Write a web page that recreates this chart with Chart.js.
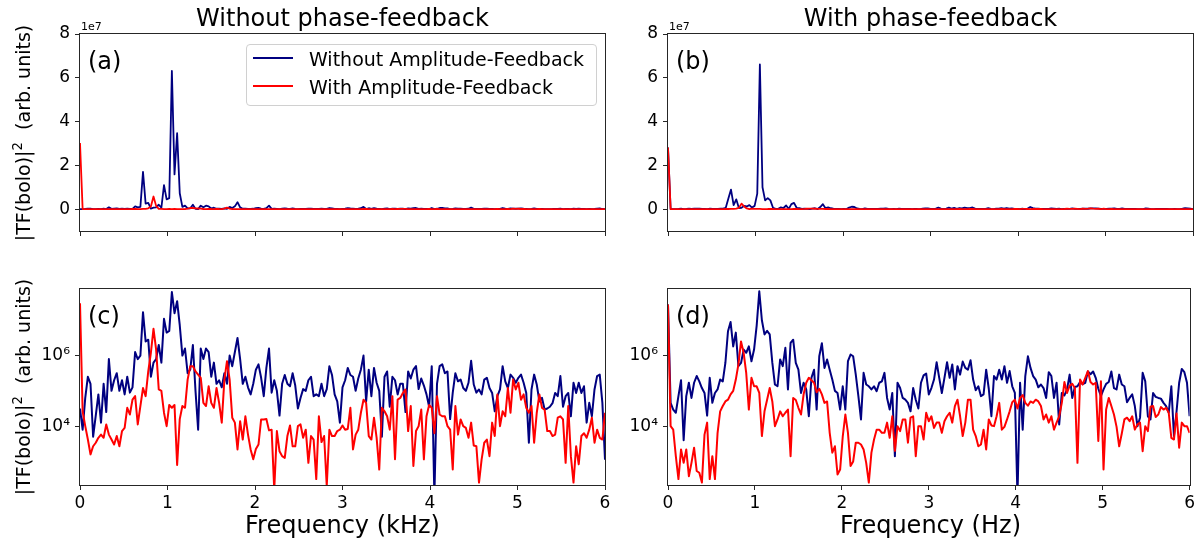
<!DOCTYPE html>
<html>
<head>
<meta charset="utf-8">
<script src="https://cdn.jsdelivr.net/npm/chart.js@4.4.0/dist/chart.umd.min.js"></script>
<style>
  body { margin: 0; background: #fff; }
  #fig { position: relative; width: 1198px; height: 543px; overflow: hidden; font-family: "DejaVu Sans", sans-serif; color: #000; }
  #fig canvas { position: absolute; left: 0; top: 0; width: 1198px; height: 543px; }
  .txt { position: absolute; white-space: nowrap; line-height: 1; }
  .mid { transform: translate(-50%, -50%); }
  .vmid { transform: translateY(-50%); }
  .ylab { transform: translate(-50%, -50%) rotate(-90deg); font-size: 19px; }
  .ylab sup { font-size: 0.7em; vertical-align: 0.55em; line-height: 0; }
  .panel { font-size: 24px; }
  .offset { font-size: 11px; }
  #legend { position: absolute; left: 246px; top: 44px; width: 351px; height: 62px; box-sizing: border-box;
            border: 1px solid #d0d0d0; border-radius: 4px; background: rgba(255, 255, 255, 0.8); }
  .handle { position: absolute; width: 40px; height: 2px; }
  .legtxt { font-size: 19px; }
</style>
</head>
<body>
<div id="fig">
  <canvas id="panel-a" width="1198" height="543"></canvas>
  <canvas id="panel-b" width="1198" height="543"></canvas>
  <canvas id="panel-c" width="1198" height="543"></canvas>
  <canvas id="panel-d" width="1198" height="543"></canvas>

  <div class="txt mid" style="left:342.5px;top:18px;font-size:24px">Without phase-feedback</div>
  <div class="txt mid" style="left:930.5px;top:18px;font-size:24px">With phase-feedback</div>

  <div class="txt offset" style="left:81px;top:21px">1e7</div>
  <div class="txt offset" style="left:669px;top:21px">1e7</div>

  <div class="txt panel vmid" style="left:88px;top:61px">(a)</div>
  <div class="txt panel vmid" style="left:676px;top:61px">(b)</div>
  <div class="txt panel vmid" style="left:88px;top:316px">(c)</div>
  <div class="txt panel vmid" style="left:676px;top:316px">(d)</div>

  <div class="txt ylab" style="left:23px;top:132.5px">|TF(bolo)|<sup>2</sup>&nbsp;&nbsp;(arb. units)</div>
  <div class="txt ylab" style="left:23px;top:387px">|TF(bolo)|<sup>2</sup>&nbsp;&nbsp;(arb. units)</div>

  <div class="txt mid" style="left:342.5px;top:525px;font-size:24px">Frequency (kHz)</div>
  <div class="txt mid" style="left:930.5px;top:525px;font-size:24px">Frequency (Hz)</div>

  <div id="legend"></div>
  <div class="handle" style="left:253px;top:57px;background:#000080"></div>
  <div class="handle" style="left:253px;top:85px;background:#ff0000"></div>
  <div class="txt legtxt vmid" style="left:309px;top:58.5px">Without Amplitude-Feedback</div>
  <div class="txt legtxt vmid" style="left:309px;top:86.5px">With Amplitude-Feedback</div>
</div>

<script>
// spectra as log10(|TF(bolo)|^2), one sample every freqStep kHz from 0 to 6
const freqStep = 0.03;

// without phase-feedback, without amplitude-feedback
const noPhaseNoAmp = [
  4.5, 3.9, 4.8, 5.4, 5.2, 3.7, 4.3, 4.9, 4.1, 5.2,
  4.4, 5.9, 5.0, 5.3, 5.5, 5.0, 5.3, 4.9, 5.4, 4.95,
  5.1, 6.1, 5.9, 6.0, 7.23, 6.4, 6.45, 5.4, 5.8, 5.9,
  6.3, 5.8, 7.04, 6.65, 6.7, 7.8, 7.2, 7.54, 6.86, 6.0,
  6.2, 5.5, 5.6, 6.3, 5.0, 3.9, 6.2, 5.9, 6.2, 6.1,
  5.4, 5.8, 5.2, 5.3, 5.1, 5.5, 5.2, 6.0, 5.7, 6.1,
  6.5, 5.9, 5.2, 5.4, 5.1, 4.9, 5.2,
  5.6, 5.75, 5.37, 4.85, 5.65, 6.2, 4.95, 5.3, 5.0, 4.3,
  5.2, 5.45, 5.2, 5.13, 5.5, 5.15, 4.5, 4.8, 5.05, 5.0,
  5.3, 5.4, 4.85, 4.9, 4.85, 5.2, 4.85, 5.05, 5.7, 5.45,
  4.9, 4.7, 4.1, 5.1, 5.3, 5.65, 5.45, 5.4, 5.0, 5.35,
  5.6, 6.0, 4.7, 5.6, 4.85, 5.65, 5.23, 5.0, 3.7, 5.4,
  5.55, 4.55, 5.4, 5.3, 4.9, 5.2, 5.2, 4.4, 5.55, 5.35,
  5.6, 5.7, 5.05, 5.35, 5.15, 4.9, 4.55, 5.7,
  2.0, 5.2, 5.7, 5.75, 5.5, 5.55, 4.2, 4.95, 5.5, 5.27,
  5.32, 5.08, 5.0, 5.23, 5.85, 5.18, 4.95, 5.04, 4.9, 5.32,
  5.37, 5.08, 4.94, 4.42, 4.85, 5.04, 5.7, 5.27, 5.08, 5.46,
  5.37, 5.23, 5.37, 5.46, 5.23, 4.94, 3.53, 5.04, 5.46, 5.18,
  4.7, 4.8, 4.47, 4.5, 4.55, 4.65, 4.94, 4.85, 5.42, 4.55,
  4.85, 4.94, 4.28, 5.23, 4.94, 5.23, 4.94, 5.13, 4.1, 4.66,
  4.28, 5.04, 5.42, 5.46, 4.66, 3.05,
];

// without phase-feedback, with amplitude-feedback
const noPhaseAmp = [
  7.48, 4.42, 4.0, 3.62, 3.2, 3.43, 3.53, 3.67, 3.76, 3.67,
  4.05, 3.76, 3.62, 3.48, 3.72, 3.43, 3.86, 3.95, 4.52, 4.33,
  4.75, 4.85, 4.05, 4.57, 5.08, 4.85, 5.55, 6.08, 6.76, 6.17,
  5.04, 5.0, 4.38, 4.0, 4.6, 4.52, 4.6, 2.9, 4.2, 4.57,
  4.52, 5.32, 5.7, 5.7, 5.55, 5.46, 5.37, 4.66, 4.57, 5.13,
  4.66, 4.52, 5.08, 4.66, 4.1, 5.32, 5.84, 5.32, 4.24, 4.1,
  3.34, 4.14, 3.62, 4.28, 3.76, 3.34, 3.06,
  3.35, 3.48, 4.19, 4.19, 4.2, 3.88, 3.9, 2.2, 3.86, 3.29,
  3.15, 3.1, 3.72, 4.02, 3.43, 3.43, 4.0, 4.05, 3.67, 3.9,
  2.96, 3.72, 3.62, 2.5, 4.28, 3.55, 3.72, 2.3, 3.9, 3.72,
  3.72, 3.86, 3.9, 4.02, 3.9, 3.92, 4.52, 3.34, 3.76, 3.9,
  4.38, 4.75, 4.66, 3.72, 3.62, 4.24, 3.67, 2.77, 4.52, 4.42,
  4.28, 3.9, 4.85, 3.06, 4.75, 4.8, 4.94, 5.04, 3.86, 4.57,
  2.87, 3.86, 4.0, 4.47, 3.06, 4.28, 4.6, 4.52,
  3.8, 4.85, 4.33, 4.28, 4.28, 4.0, 3.9, 2.77, 4.57, 3.76,
  4.19, 4.0, 3.95, 3.67, 4.1, 3.45, 3.43, 2.4, 3.06, 3.53,
  3.62, 3.15, 4.1, 3.72, 4.9, 4.0, 4.42, 4.28, 5.08, 4.38,
  5.32, 5.04, 5.23, 4.75, 4.9, 4.52, 4.38, 4.57, 3.53, 4.38,
  4.9, 4.52, 4.47, 3.86, 3.86, 3.72, 3.76, 4.24, 4.28, 4.19,
  2.96, 4.57, 3.15, 2.4, 3.43, 2.92, 3.72, 3.8, 3.67, 3.9,
  4.24, 3.53, 3.9, 3.67, 3.62, 4.38,
];

// with phase-feedback, without amplitude-feedback
const phaseNoAmp = [
  7.45, 4.66, 4.47, 4.38, 4.85, 5.3, 3.6, 4.85, 5.23, 4.8,
  5.23, 5.42, 5.27, 5.08, 4.94, 4.3, 5.37, 4.66, 4.94, 5.04,
  5.32, 5.27, 5.79, 6.69, 6.95, 6.26, 6.65, 5.7, 5.79, 6.17,
  6.08, 6.26, 5.84, 6.17, 6.85, 7.82, 7.0, 6.6, 6.7, 6.6,
  5.8, 5.18, 5.13, 5.89, 5.7, 6.22, 5.04, 6.36, 6.45, 5.79,
  5.6, 4.94, 5.23, 5.04, 4.28, 5.37, 5.6, 4.47, 5.98, 6.35,
  5.65, 5.89, 5.6, 5.32, 5.0, 4.94, 4.47,
  5.13, 4.47, 5.84, 6.03, 5.98, 5.46, 4.85, 4.19, 5.51, 5.18,
  5.13, 5.04, 5.13, 4.99, 5.23, 5.27, 5.51, 4.8, 4.47, 4.94,
  3.15, 5.23, 5.08, 4.8, 4.75, 4.66, 4.42, 5.08, 4.75, 4.5,
  5.23, 5.44, 5.49, 4.9, 5.08, 5.32, 5.81, 5.37, 4.94, 5.37,
  5.81, 5.37, 5.75, 5.04, 5.7, 5.46, 5.83, 5.65, 5.6, 5.87,
  5.32, 5.02, 5.13, 4.85, 4.9, 5.6, 5.06, 4.28, 5.42, 5.32,
  5.6, 5.32, 5.7, 5.23, 5.56, 5.13, 4.94, 2.0,
  5.23, 3.9, 5.42, 5.98, 5.65, 5.42, 5.32, 5.1, 5.18, 5.08,
  4.8, 5.53, 5.42, 4.8, 5.23, 4.05, 4.94, 4.87, 5.04, 5.46,
  4.8, 5.11, 5.13, 5.25, 5.19, 5.23, 5.55, 5.47, 5.55, 5.37,
  5.06, 4.85, 5.04, 5.2, 5.25, 5.55, 5.08, 5.04, 5.46, 5.18,
  5.13, 4.68, 4.8, 4.9, 4.57, 4.0, 4.24, 5.51, 5.27, 4.28,
  4.19, 4.94, 4.83, 4.8, 4.78, 4.66, 4.57, 4.38, 5.13, 3.72,
  4.42, 5.23, 5.62, 5.53, 5.23, 4.28,
];

// with phase-feedback, with amplitude-feedback
const phaseAmp = [
  7.45, 4.0, 3.9, 3.15, 2.5, 3.34, 2.96, 3.34, 2.58, 2.96,
  3.39, 2.73, 2.68, 2.4, 3.76, 4.1, 2.5, 3.15, 2.5, 3.8,
  4.42, 4.57, 4.7, 4.75, 4.9, 5.0, 5.32, 5.75, 6.4, 6.08,
  5.5, 4.47, 5.37, 5.13, 5.13, 4.94, 3.72, 4.42, 4.75, 5.08,
  4.7, 4.0, 4.19, 4.42, 4.28, 4.38, 4.47, 3.15, 4.8, 4.74,
  4.52, 4.33, 4.9, 5.23, 5.37, 5.3, 5.23, 4.96, 5.06, 4.9,
  4.66, 4.7, 3.81, 3.25, 3.43, 2.63, 2.77,
  3.7, 4.33, 3.81, 2.87, 3.0, 3.53, 3.53, 3.48, 3.34, 2.96,
  2.4, 3.25, 3.62, 3.9, 3.9, 3.81, 3.81, 4.1, 3.67, 4.28,
  3.3, 4.0, 3.86, 4.19, 4.19, 3.53, 4.24, 4.28, 3.15, 4.0,
  4.0, 3.62, 4.38, 4.14, 4.28, 3.95, 4.1, 4.1, 3.81, 4.14,
  4.28, 4.38, 4.1, 4.57, 4.75, 4.28, 3.72, 4.1, 4.75, 4.75,
  3.9, 3.72, 3.43, 3.48, 3.9, 3.34, 4.19, 4.02, 4.0, 4.28,
  4.66, 3.9, 3.98, 4.19, 4.42, 4.68, 4.75, 4.5,
  4.8, 4.88, 4.66, 4.58, 4.7, 4.66, 4.75, 4.7, 4.57, 4.19,
  4.33, 4.1, 4.28, 3.9, 4.1, 4.28, 4.66, 5.25, 4.94, 5.15,
  5.2, 5.08, 2.96, 5.32, 5.18, 5.37, 5.56, 5.25, 5.18, 5.23,
  3.58, 5.27, 2.77, 4.47, 4.8, 4.57, 4.33, 3.98, 3.43, 3.79,
  4.19, 4.24, 4.14, 4.28, 3.9, 4.05, 4.1, 3.29, 4.0, 3.86,
  4.55, 4.57, 4.26, 4.33, 4.54, 4.47, 4.52, 4.38, 3.67, 3.62,
  4.36, 3.39, 4.1, 4.0, 4.0, 3.81,
];

const freqTicks = [0, 1, 2, 3, 4, 5, 6]; // kHz
const linTicks = [0, 2, 4, 6, 8];        // units of 1e7
const logTicks = [4, 6];                 // decades

const freq = noPhaseNoAmp.map((_, i) => i * freqStep);
const supDigits = { 4: "\u2074", 6: "\u2076" };

Chart.defaults.font.family = "'DejaVu Sans', sans-serif";
Chart.defaults.color = "#000";

// matplotlib-like box around the plot area
const frameBox = {
  id: "frameBox",
  afterDraw(chart) {
    const { ctx, chartArea: a } = chart;
    ctx.save();
    ctx.strokeStyle = "#262626";
    ctx.lineWidth = 1;
    ctx.strokeRect(Math.round(a.left) - 0.5, Math.round(a.top) - 0.5, Math.round(a.right - a.left) + 1, Math.round(a.bottom - a.top) + 1);
    ctx.restore();
  },
};

function spectrumChart(id, box, logY, blueLog, redLog) {
  const toPoints = (vals) => vals.map((v, i) => ({ x: freq[i], y: Math.pow(10, v) }));
  const yAxisW = 60;
  const xAxisH = logY ? 40 : 12;
  const tickGrid = { drawOnChartArea: false, tickLength: 5, color: "#262626", lineWidth: 1 };

  const yScale = logY
    ? {
        type: "logarithmic",
        min: 215,
        max: 7.7e7,
        afterBuildTicks: (s) => { s.ticks = logTicks.map((d) => ({ value: Math.pow(10, d) })); },
        ticks: { callback: (v) => "10" + supDigits[Math.round(Math.log10(v))] },
      }
    : {
        type: "linear",
        min: -1e7,
        max: 8e7,
        afterBuildTicks: (s) => { s.ticks = linTicks.map((v) => ({ value: v * 1e7 })); },
        ticks: { callback: (v) => String(Math.round(v / 1e7)) },
      };
  yScale.afterFit = (s) => { s.width = yAxisW; };
  yScale.ticks.padding = 5;
  yScale.ticks.font = { size: 17 };
  yScale.grid = tickGrid;
  yScale.border = { display: false };

  return new Chart(document.getElementById(id), {
    type: "line",
    data: {
      datasets: [
        { label: "With Amplitude-Feedback", data: toPoints(redLog), borderColor: "#ff0000", order: 0 },
        { label: "Without Amplitude-Feedback", data: toPoints(blueLog), borderColor: "#000080", order: 1 },
      ],
    },
    options: {
      responsive: false,
      animation: false,
      events: [],
      layout: {
        padding: { left: box.left - yAxisW, top: box.top, right: 1198 - box.right, bottom: 543 - box.bottom - xAxisH },
      },
      elements: {
        point: { radius: 0 },
        line: { borderWidth: logY ? 2 : 1.8, tension: 0, borderJoinStyle: "round", fill: false },
      },
      plugins: { legend: { display: false }, tooltip: { enabled: false } },
      scales: {
        x: {
          type: "linear",
          min: 0,
          max: 6,
          afterBuildTicks: (s) => { s.ticks = freqTicks.map((v) => ({ value: v })); },
          afterFit: (s) => { s.height = xAxisH; },
          ticks: { display: logY, padding: 3, font: { size: 17 } },
          grid: tickGrid,
          border: { display: false },
        },
        y: yScale,
      },
    },
    plugins: [frameBox],
  });
}

spectrumChart("panel-a", { left: 80, top: 34, right: 605, bottom: 231 }, false, noPhaseNoAmp, noPhaseAmp);
spectrumChart("panel-b", { left: 668, top: 34, right: 1193, bottom: 231 }, false, phaseNoAmp, phaseAmp);
spectrumChart("panel-c", { left: 80, top: 289, right: 605, bottom: 485 }, true, noPhaseNoAmp, noPhaseAmp);
spectrumChart("panel-d", { left: 668, top: 289, right: 1193, bottom: 485 }, true, phaseNoAmp, phaseAmp);
</script>
</body>
</html>
